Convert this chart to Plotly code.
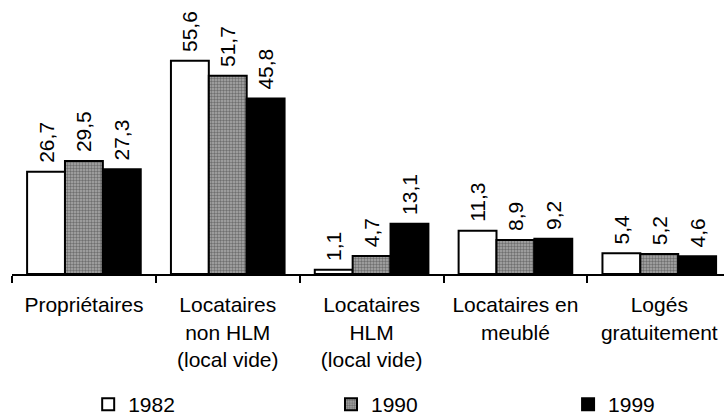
import plotly.graph_objects as go

categories = [
    "Propriétaires",
    "Locataires<br>non HLM<br>(local vide)",
    "Locataires<br>HLM<br>(local vide)",
    "Locataires en<br>meublé",
    "Logés<br>gratuitement",
]
years = ["1982", "1990", "1999"]
values_1982 = [26.7, 55.6, 1.1, 11.3, 5.4]
values_1990 = [29.5, 51.7, 4.7, 8.9, 5.2]
values_1999 = [27.3, 45.8, 13.1, 9.2, 4.6]

FONT = "Liberation Sans, Arial, sans-serif"

fig = go.Figure()
styles = [
    dict(color="white"),
    dict(color="#8a8a8a", pattern=dict(shape=".", size=3, solidity=0.5,
                                       fgcolor="#333333", bgcolor="#aaaaaa")),
    dict(color="black"),
]
legend_ids = ["legend", "legend2", "legend3"]
for name, vals, st, lg in zip(years, [values_1982, values_1990, values_1999], styles, legend_ids):
    fig.add_trace(go.Bar(
        x=categories, y=vals, name=name, legend=lg,
        marker=dict(line=dict(color="black", width=2), **st),
        texttemplate="\u00a0%{y:.1f}", textposition="outside", textangle=-90,
        textfont=dict(size=21, color="black", family=FONT),
        constraintext="none", cliponaxis=False,
    ))

leg_common = dict(orientation="h", y=-0.568, yanchor="middle", xanchor="left",
                  font=dict(size=21), itemwidth=30, bgcolor="rgba(0,0,0,0)")
fig.update_layout(
    width=724, height=417,
    margin=dict(l=12, r=0, t=44, b=143, autoexpand=False),
    paper_bgcolor="white", plot_bgcolor="white",
    separators=", ",
    barmode="group", bargap=0.21, bargroupgap=0,
    font=dict(family=FONT, size=21, color="black"),
    showlegend=True,
    legend=dict(x=0.107, **leg_common),
    legend2=dict(x=0.448, **leg_common),
    legend3=dict(x=0.781, **leg_common),
)
fig.update_xaxes(
    type="category", range=[-0.5, 4.45], automargin=False,
    showline=True, linecolor="black", linewidth=2,
    ticks="outside", tickson="boundaries", ticklen=7, tickwidth=2, tickcolor="black",
    showgrid=False, tickfont=dict(size=21), ticklabelstandoff=11,
)
fig.update_yaxes(visible=False, range=[0, 60], showgrid=False, zeroline=False)

fig.write_html("out.html",
               config={"displayModeBar": False},
               post_script="document.body.style.margin='0';document.body.style.overflow='hidden';")
